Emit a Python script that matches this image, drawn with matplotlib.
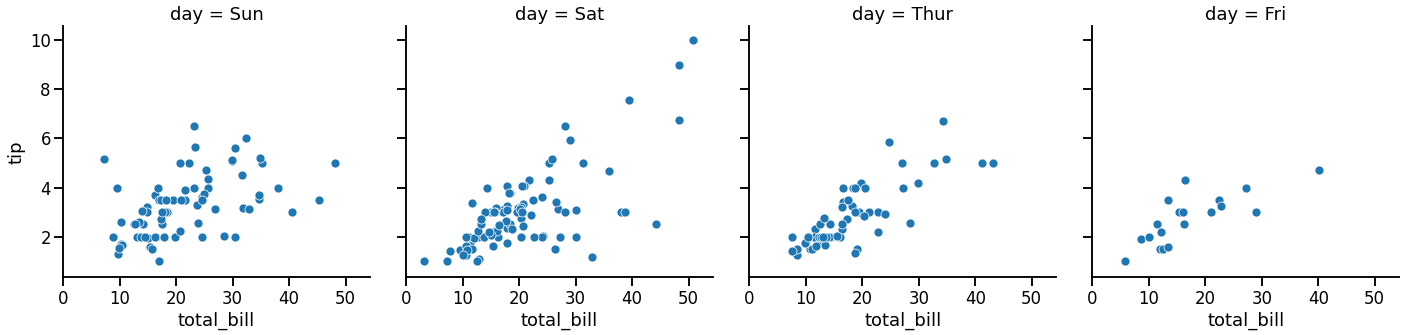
import matplotlib
matplotlib.use("Agg")
import matplotlib.pyplot as plt
import seaborn as sns

days = ["Sun", "Sat", "Thur", "Fri"]

sun_bill = [16.99, 10.34, 21.01, 23.68, 24.59, 25.29, 8.77, 26.88, 15.04, 14.78, 10.27, 35.26, 15.42, 18.43,
            14.83, 21.58, 10.33, 16.29, 16.97, 17.46, 13.94, 9.68, 30.40, 18.29, 22.23, 32.40, 28.55, 18.04,
            12.54, 10.29, 34.81, 9.94, 25.56, 19.49, 38.07, 23.95, 25.71, 17.31, 29.93, 14.07, 13.13, 17.26,
            24.55, 19.77, 29.85, 48.17, 25.00, 13.39, 16.49, 21.50, 12.66, 16.21, 13.81, 17.51, 24.52, 20.76,
            31.71, 7.25, 31.85, 16.82, 32.90, 17.89, 14.48, 9.60, 34.63, 34.65, 23.33, 45.35, 23.17, 40.55,
            20.69, 20.90, 30.46, 18.15, 23.10, 15.69]
sun_tip = [1.01, 1.66, 3.50, 3.31, 3.61, 4.71, 2.00, 3.12, 1.96, 3.23, 1.71, 5.00, 1.57, 3.00,
           3.02, 3.92, 1.67, 3.71, 3.50, 2.54, 3.06, 1.32, 5.60, 3.00, 5.00, 6.00, 2.05, 3.00,
           2.50, 2.60, 5.20, 1.56, 4.34, 3.51, 4.00, 2.55, 4.00, 3.50, 5.07, 2.50, 2.00, 2.74,
           2.00, 2.00, 5.14, 5.00, 3.75, 2.61, 2.00, 3.50, 2.50, 2.00, 2.00, 3.00, 3.48, 2.24,
           4.50, 5.15, 3.18, 4.00, 3.11, 2.00, 2.00, 4.00, 3.55, 3.68, 5.65, 3.50, 6.50, 3.00,
           5.00, 3.50, 2.00, 3.50, 4.00, 1.50]

sat_bill = [20.65, 17.92, 20.29, 15.77, 39.42, 19.82, 17.81, 13.37, 12.69, 21.70, 19.65, 9.55, 18.35, 15.06,
            20.69, 17.78, 24.06, 16.31, 16.93, 18.69, 31.27, 16.04, 38.01, 26.41, 11.24, 48.27, 20.29, 13.81,
            11.02, 18.29, 17.59, 20.08, 16.45, 3.07, 20.23, 15.01, 12.02, 17.07, 26.86, 25.28, 14.73, 10.51,
            17.92, 44.30, 22.42, 20.92, 15.36, 20.49, 25.21, 18.24, 14.31, 14.00, 7.25, 10.59, 10.63, 50.81,
            15.81, 26.59, 38.73, 24.27, 12.76, 30.06, 25.89, 48.33, 13.27, 28.17, 12.90, 28.15, 11.59, 7.74,
            30.14, 20.45, 13.28, 22.12, 24.01, 15.69, 11.61, 10.77, 15.53, 10.07, 12.60, 32.83, 35.83, 29.03,
            27.18, 22.67, 17.82]
sat_tip = [3.35, 4.08, 2.75, 2.23, 7.58, 3.18, 2.34, 2.00, 2.00, 4.30, 3.00, 1.45, 2.50, 3.00,
           2.45, 3.27, 3.60, 2.00, 3.07, 2.31, 5.00, 2.24, 3.00, 1.50, 1.76, 6.73, 3.21, 2.00,
           1.98, 3.76, 2.64, 3.15, 2.47, 1.00, 2.01, 2.09, 1.97, 3.00, 3.14, 5.00, 2.20, 1.25,
           3.08, 2.50, 3.48, 4.08, 1.64, 4.06, 4.29, 3.76, 4.00, 3.00, 1.00, 1.61, 2.00, 10.00,
           3.16, 3.41, 3.00, 2.03, 2.23, 2.00, 5.16, 9.00, 2.50, 6.50, 1.10, 3.00, 1.50, 1.44,
           3.09, 3.00, 2.72, 2.88, 2.00, 3.00, 3.39, 1.47, 3.00, 1.25, 1.00, 1.17, 4.67, 5.92,
           2.00, 2.00, 1.75]

thur_bill = [27.20, 22.76, 17.29, 19.44, 16.66, 10.07, 32.68, 15.98, 34.83, 13.03, 18.28, 24.71, 21.16,
             10.65, 12.43, 24.08, 11.69, 13.42, 14.26, 15.95, 12.48, 29.80, 8.52, 14.52, 11.38, 22.82,
             19.08, 20.27, 11.17, 12.26, 18.26, 8.51, 10.33, 14.15, 16.00, 13.16, 17.47, 34.30, 41.19,
             27.05, 16.43, 8.35, 18.64, 11.87, 9.78, 7.51, 19.81, 28.44, 15.48, 16.58, 7.56, 10.34,
             43.11, 13.00, 13.51, 18.71, 12.74, 13.00, 16.40, 20.53, 16.47, 18.78]
thur_tip = [4.00, 3.00, 2.71, 3.00, 3.40, 1.83, 5.00, 2.03, 5.17, 2.00, 4.00, 5.85, 3.00,
            1.50, 1.80, 2.92, 2.31, 1.68, 2.50, 2.00, 2.52, 4.20, 1.48, 2.00, 2.00, 2.18,
            1.50, 2.83, 1.50, 2.00, 3.25, 1.25, 2.00, 2.00, 2.00, 2.75, 3.50, 6.70, 5.00,
            5.00, 2.30, 1.50, 1.36, 1.63, 1.73, 2.00, 4.19, 2.56, 2.02, 4.00, 1.44, 2.00,
            5.00, 2.00, 2.00, 4.00, 2.01, 2.00, 2.50, 4.00, 3.23, 3.00]

fri_bill = [28.97, 22.49, 5.75, 16.32, 22.75, 40.17, 27.28, 12.03, 21.01, 12.46, 11.35, 15.38,
            12.16, 13.42, 8.58, 15.98, 13.42, 16.27, 10.09]
fri_tip = [3.00, 3.50, 1.00, 4.30, 3.25, 4.73, 4.00, 1.50, 3.00, 1.50, 2.50, 3.00,
           2.20, 3.48, 1.92, 3.00, 1.58, 2.50, 2.00]

bills = [sun_bill, sat_bill, thur_bill, fri_bill]
tips = [sun_tip, sat_tip, thur_tip, fri_tip]

sns.set_theme(context="talk", style="ticks")
# plain black text and spines
plt.rcParams.update({
    "text.color": "black",
    "axes.labelcolor": "black",
    "axes.edgecolor": "black",
    "xtick.color": "black",
    "ytick.color": "black",
})

# 72 dpi canvas, so point sizes map one to one onto pixels
fig, axes = plt.subplots(1, 4, figsize=(1415 / 72, 335 / 72), dpi=72, sharex=True, sharey=True)
fig.subplots_adjust(left=0.0447, right=0.9887, top=0.921, bottom=0.172, wspace=0.119)

for ax, day, x, y in zip(axes, days, bills, tips):
    ax.scatter(x, y, s=81, color="#1f77b4", edgecolor="white", linewidth=0.72)
    ax.set_title(f"day = {day}")
    ax.set_xlabel("total_bill")
    sns.despine(ax=ax)

axes[0].set_ylabel("tip")
axes[0].set_xlim(0, 54.3)
axes[0].set_ylim(0.35, 10.55)
axes[0].set_xticks([0, 10, 20, 30, 40, 50])
axes[0].set_yticks([2, 4, 6, 8, 10])

fig.savefig("out.png", dpi=72)
